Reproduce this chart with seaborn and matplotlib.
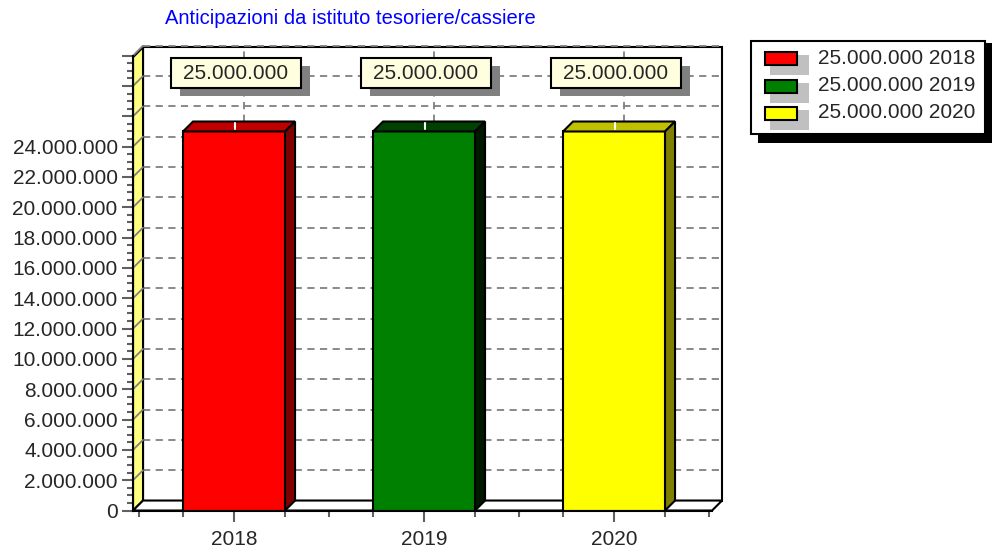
import matplotlib
matplotlib.use("Agg")
import matplotlib.pyplot as plt
import seaborn as sns
from matplotlib.patches import Polygon, Rectangle

# ---------------------------------------------------------
# DATA
# ---------------------------------------------------------
years = ["2018", "2019", "2020"]
values = [25000000, 25000000, 25000000]
front_colors = ["#FF0000", "#008000", "#FFFF00"]
top_colors = ["#C00000", "#004000", "#C0C000"]
side_colors = ["#800000", "#001800", "#808000"]
title = "Anticipazioni da istituto tesoriere/cassiere"

y_ticks = list(range(0, 30000001, 2000000))
y_labels = [f"{v:,}".replace(",", ".") if v <= 24000000 else "" for v in y_ticks]

# ---------------------------------------------------------
# STYLE
# ---------------------------------------------------------
sns.set_style("white")
plt.rcParams["font.family"] = ["Liberation Sans", "DejaVu Sans"]

fig = plt.figure(figsize=(9.92, 5.54), dpi=100)
ax = fig.add_axes([0.1341, 0.0785, 0.5837, 0.821])
ax.patch.set_alpha(0)

PX_X = 190          # pixels per category
PX_Y = 15.21e-6     # pixels per unit of value
XMIN, XMAX = -0.5316, 2.516
YMAX = 29.9e6
dx = 10 / PX_X      # depth in x (data units)
dy = 10 / PX_Y      # depth in y (data units)
bar_w = 0.537

# back wall
ax.add_patch(Polygon([(XMIN + dx, dy), (XMAX + dx, dy), (XMAX + dx, YMAX + dy),
                      (XMIN + dx, YMAX + dy)], closed=True, facecolor="white",
                     edgecolor="black", lw=1.5, zorder=0.5, clip_on=False))
# left wall
ax.add_patch(Polygon([(XMIN, 0), (XMIN + dx, dy), (XMIN + dx, YMAX + dy), (XMIN, YMAX)],
                     closed=True, facecolor="#FFFF80", edgecolor="black", lw=1.5,
                     zorder=1, clip_on=False))
# floor
ax.add_patch(Polygon([(XMIN, 0), (XMAX, 0), (XMAX + dx, dy), (XMIN + dx, dy)],
                     closed=True, facecolor="white", edgecolor="black", lw=1.5,
                     zorder=1, clip_on=False))

# gridlines on back wall and left wall
for v in y_ticks[1:]:
    ax.plot([XMIN + dx, XMAX + dx], [v + dy, v + dy], color="#808080", lw=1.3,
            ls=(0, (4, 3)), zorder=0.8, clip_on=False)
    ax.plot([XMIN, XMIN + dx], [v, v + dy], color="#808080", lw=1.3,
            zorder=1.2, clip_on=False)
for i in range(len(years)):
    ax.plot([i + dx, i + dx], [dy, YMAX + dy], color="#808080", lw=1.3,
            ls=(0, (4, 3)), zorder=0.8, clip_on=False)

# bars (front faces)
sns.barplot(x=years, y=values, hue=years, palette=front_colors, saturation=1,
            width=bar_w, edgecolor="black", linewidth=1.5, legend=False,
            ax=ax, zorder=3)

# 3d top and side of the bars
bars = [p for p in ax.patches if isinstance(p, Rectangle)]
for i, p in enumerate(bars):
    x0, x1 = p.get_x(), p.get_x() + p.get_width()
    h = p.get_height()
    ax.add_patch(Polygon([(x0, h), (x1, h), (x1 + dx, h + dy), (x0 + dx, h + dy)],
                         closed=True, facecolor=top_colors[i], edgecolor="black",
                         lw=1.5, zorder=3, clip_on=False))
    ax.add_patch(Polygon([(x1, 0), (x1 + dx, dy), (x1 + dx, h + dy), (x1, h)],
                         closed=True, facecolor=side_colors[i], edgecolor="black",
                         lw=1.5, zorder=3, clip_on=False))
    ax.plot([i + dx * 0.1, i + dx * 0.1], [h + dy * 0.2, h + dy * 0.85],
            color="white", lw=1.5, zorder=3.5, clip_on=False)

    # value label with shadow
    cx = i + 0.01
    cy = 28.83e6
    bw, bh = 130 / PX_X, 30 / PX_Y
    ax.add_patch(Rectangle((cx - bw / 2 + 9 / PX_X, cy - bh / 2 - 8 / PX_Y), bw, bh,
                           facecolor="#808080", edgecolor="none", zorder=5,
                           clip_on=False))
    ax.add_patch(Rectangle((cx - bw / 2, cy - bh / 2), bw, bh, facecolor="#FFFFE0",
                           edgecolor="black", lw=1.5, zorder=6, clip_on=False))
    ax.text(cx, cy, f"{values[i]:,}".replace(",", "."), ha="center", va="center",
            fontsize=15, zorder=7)

# axes, ticks
ax.set_xlim(XMIN, XMAX)
ax.set_ylim(0, YMAX)
for s in ["top", "right"]:
    ax.spines[s].set_visible(False)
for s in ["left", "bottom"]:
    ax.spines[s].set_color("black")
    ax.spines[s].set_linewidth(1.5)
    ax.spines[s].set_zorder(4)

ax.set_yticks(y_ticks)
ax.set_yticklabels(y_labels, fontsize=15)
ax.set_yticks([v * 500000 for v in range(0, 60)], minor=True)
ax.set_xticks(range(len(years)))
ax.set_xticklabels(years, fontsize=15)
edges = []
for i in range(len(years)):
    edges += [i - 0.5, i - bar_w / 2, i + bar_w / 2]
edges.append(len(years) - 0.5)
ax.set_xticks(edges, minor=True)
ax.tick_params(axis="both", which="both", left=True, bottom=True)
ax.tick_params(axis="both", which="major", direction="out", length=8, width=1.5,
               color="#606060", pad=3)
ax.tick_params(axis="both", which="minor", direction="out", length=4, width=1.5,
               color="#606060")
ax.tick_params(axis="x", which="major", pad=6)
ax.set_xlabel("")
ax.set_ylabel("")

# title
fig.text(165 / 992, 1 - 18 / 554, title, color="#0000FF", fontsize=14.5,
         ha="left", va="center")

# legend (drawn by hand)
W, H = 992, 554
fig.patches.append(Rectangle((758 / W, 1 - 143 / H), 234 / W, 100 / H,
                             transform=fig.transFigure, facecolor="black",
                             edgecolor="none", zorder=1))
fig.patches.append(Rectangle((751 / W, 1 - 134 / H), 234 / W, 93 / H,
                             transform=fig.transFigure, facecolor="white",
                             edgecolor="black", lw=1.5, zorder=2))
for i, yr in enumerate(years):
    yc = 58 + i * 27.5
    fig.patches.append(Rectangle((770 / W, 1 - (yc + 17) / H), 39 / W, 20 / H,
                                 transform=fig.transFigure, facecolor="#C0C0C0",
                                 edgecolor="none", zorder=3))
    fig.patches.append(Rectangle((765 / W, 1 - (yc + 7) / H), 32 / W, 13 / H,
                                 transform=fig.transFigure,
                                 facecolor=front_colors[i], edgecolor="black",
                                 lw=1.5, zorder=4))
    fig.text(818 / W, 1 - yc / H, f"{values[i]:,}".replace(",", ".") + " " + yr,
             fontsize=15, ha="left", va="center", zorder=5)

plt.savefig("out.png", dpi=100)
